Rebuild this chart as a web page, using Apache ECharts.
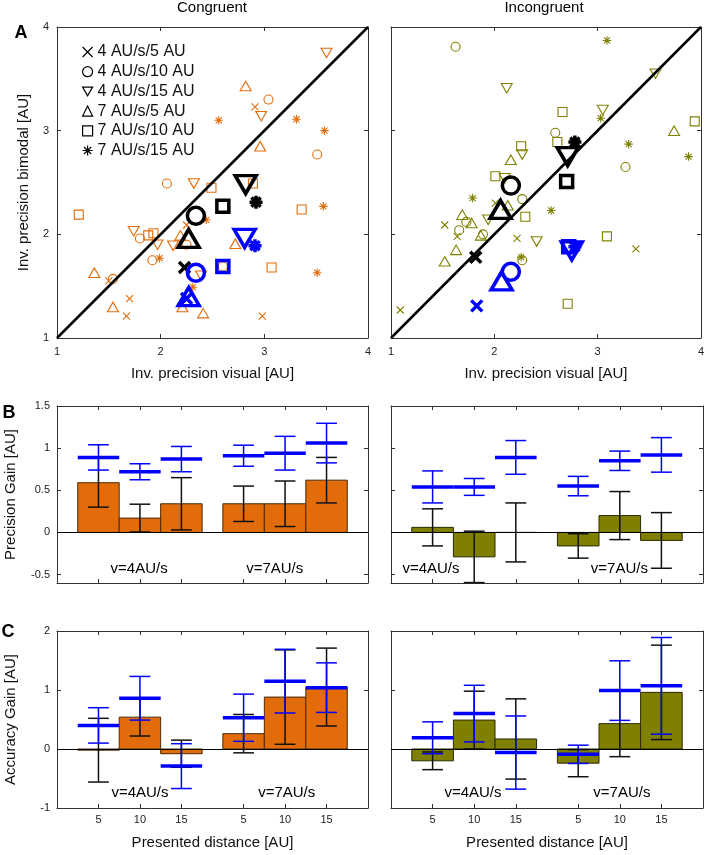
<!DOCTYPE html>
<html><head><meta charset="utf-8">
<script src="https://cdn.jsdelivr.net/npm/echarts@6/dist/echarts.min.js"></script>
<style>html,body{margin:0;padding:0;background:#fff}#c{width:707px;height:855px}</style>
</head><body><div id="c"></div>
<script>
// ================= DATA =================
const legendNames = ['4 AU/s/5 AU','4 AU/s/10 AU','4 AU/s/15 AU','7 AU/s/5 AU','7 AU/s/10 AU','7 AU/s/15 AU'];
const scatterTicks = [1, 2, 3, 4];
const precTicks = [-0.5, 0, 0.5, 1, 1.5];
const accTicks = [-1, 0, 1, 2];
const distLabels = ['5', '10', '15', '5', '10', '15'];
const noteText = ['v=4AU/s', 'v=7AU/s'];

// Panel A, congruent: individual subjects [visual, bimodal]
const cong_4_5  = [[2.91,3.23],[2.25,2.09],[1.50,1.55],[1.70,1.38],[1.67,1.21],[2.98,1.21]];
const cong_4_10 = [[3.04,3.30],[3.51,2.77],[2.06,2.49],[1.80,1.96],[2.25,1.90],[1.92,1.75],[1.54,1.57],[2.60,1.69]];
const cong_4_15 = [[3.60,3.75],[2.97,3.14],[2.32,2.49],[1.74,2.03],[1.97,1.90],[2.12,1.89],[2.39,1.60]];
const cong_7_5  = [[2.82,3.43],[2.96,2.85],[2.19,1.99],[2.72,1.91],[1.36,1.63],[1.54,1.30],[2.21,1.30],[2.41,1.24]];
const cong_7_10 = [[2.49,2.45],[2.89,2.49],[1.21,2.19],[3.36,2.24],[1.88,1.99],[1.93,2.01],[3.07,1.68]];
const cong_7_15 = [[2.56,3.10],[3.31,3.11],[3.58,3.00],[3.57,2.27],[2.44,2.14],[1.99,1.77],[2.31,1.49],[3.51,1.63]];
// Panel A, incongruent
const inc_4_5  = [[2.01,2.30],[1.52,2.09],[1.64,1.98],[2.22,1.96],[3.37,1.86],[1.09,1.27]];
const inc_4_10 = [[1.625,3.81],[2.59,2.98],[3.27,2.65],[2.27,2.34],[1.73,2.12],[1.66,2.04],[1.89,2.00],[2.27,1.75]];
const inc_4_15 = [[2.12,3.41],[3.56,3.55],[3.05,3.20],[2.27,2.77],[2.10,2.54],[1.94,2.14],[2.41,1.93]];
const inc_7_5  = [[3.74,3.00],[2.16,2.72],[2.13,2.28],[1.69,2.19],[1.78,2.11],[1.87,1.99],[1.63,1.85],[1.52,1.74]];
const inc_7_10 = [[2.66,3.18],[3.94,3.09],[2.61,2.89],[2.26,2.85],[2.01,2.56],[2.30,2.17],[3.09,1.98],[2.71,1.33]];
const inc_7_15 = [[3.09,3.87],[3.03,3.12],[3.30,2.87],[3.88,2.75],[1.79,2.35],[2.55,2.23],[2.26,1.78]];
// Group means (black = observed, blue = model), order as legendNames
const congMeanObs   = [[2.23,1.68],[2.34,2.18],[2.82,2.48],[2.27,1.96],[2.60,2.27],[2.92,2.31]];
const congMeanModel = [[2.25,1.38],[2.34,1.63],[2.81,1.96],[2.27,1.40],[2.60,1.69],[2.91,1.89]];
const incMeanObs    = [[1.82,1.78],[2.16,2.47],[2.71,2.75],[2.06,2.24],[2.70,2.51],[2.78,2.89]];
const incMeanModel  = [[1.83,1.31],[2.16,1.64],[2.75,1.84],[2.07,1.55],[2.72,1.88],[2.78,1.88]];

// Panel B: precision gain
const precCongBar      = [0.59, 0.17, 0.34, 0.34, 0.34, 0.62];
const precCongBarErr   = [0.29, 0.165, 0.31, 0.21, 0.27, 0.27];
const precCongModel    = [0.89, 0.72, 0.87, 0.91, 0.94, 1.06];
const precCongModelErr = [0.15, 0.095, 0.15, 0.125, 0.20, 0.235];
const precIncBar       = [0.06, -0.29, 0.0, -0.16, 0.20, -0.095];
const precIncBarErr    = [0.22, 0.305, 0.35, 0.145, 0.285, 0.33];
const precIncModel     = [0.54, 0.54, 0.89, 0.55, 0.85, 0.92];
const precIncModelErr  = [0.19, 0.10, 0.20, 0.115, 0.115, 0.205];
// Panel C: accuracy gain
const accCongBar       = [-0.02, 0.54, -0.08, 0.26, 0.88, 1.05];
const accCongBarErr    = [0.54, 0.32, 0.23, 0.325, 0.80, 0.66];
const accCongModel     = [0.40, 0.86, -0.29, 0.53, 1.15, 1.04];
const accCongModelErr  = [0.30, 0.37, 0.38, 0.40, 0.54, 0.42];
const accIncBar        = [-0.20, 0.49, 0.17, -0.24, 0.43, 0.96];
const accIncBarErr     = [0.15, 0.49, 0.68, 0.23, 0.56, 0.80];
const accIncModel      = [0.19, 0.60, -0.06, -0.09, 0.99, 1.07];
const accIncModelErr   = [0.27, 0.48, 0.62, 0.155, 0.505, 0.82];
// speed-group annotation anchors [x, y]
const precCongNotes = [[1.98,-0.43],[5.25,-0.43]];
const precIncNotes  = [[0.96,-0.43],[5.49,-0.43]];
const accCongNotes  = [[2.00,-0.75],[5.54,-0.75]];
const accIncNotes   = [[1.97,-0.75],[5.55,-0.75]];

// ================= LAYOUT / STYLE =================
const FONT = '"Liberation Sans", Arial, Helvetica, sans-serif';
const AX = '#333333';
const ORANGE = '#E36C0A', OLIVE = '#808000', BLUE = '#0000FF';
const SYMS = ['path://M0,0L10,10M0,10L10,0', 'circle', 'path://M0,0L20,0L10,17.32Z', 'triangle', 'rect',
  'path://M5,0L5,10M0,5L10,5M1.46,1.46L8.54,8.54M1.46,8.54L8.54,1.46'];
const SMALL = [7, 9, [11, 9.5], [11, 9.5], 9, 8.5];
const BIG = [11, 17, [21, 18], [21, 18], 12, 13];
const barPos = [1, 2, 3, 4.5, 5.5, 6.5];
const barXMin = 0, barXMax = 7.5;
const scMin = 1, scMax = 4;

const grids = [
  {left: 57, top: 27, width: 311, height: 311},
  {left: 391, top: 27, width: 312, height: 311},
  {left: 57, top: 406, width: 311, height: 177},
  {left: 391, top: 406, width: 312, height: 177},
  {left: 57, top: 631, width: 311, height: 177},
  {left: 391, top: 631, width: 312, height: 177}
];

function mkAxis(pos, gi, min, max, ticks, showLabel, margin, fmt, name, nameGap) {
  const a = {
    type: 'value', gridIndex: gi, min: min, max: max, position: pos,
    axisLine: {show: true, onZero: false, lineStyle: {color: AX, width: 1}},
    axisTick: {show: true, inside: true, length: 4, customValues: ticks, lineStyle: {color: AX, width: 1}},
    axisLabel: {show: showLabel, customValues: ticks, margin: margin, fontSize: 11, color: '#222', fontFamily: FONT},
    splitLine: {show: false}
  };
  if (fmt) a.axisLabel.formatter = fmt;
  if (name) {
    a.name = name; a.nameLocation = 'middle'; a.nameGap = nameGap;
    a.nameTextStyle = {fontSize: 15, color: '#111', fontFamily: FONT};
  }
  return a;
}
const distFmt = v => { const i = barPos.findIndex(p => Math.abs(p - v) < 1e-6); return i >= 0 ? distLabels[i] : ''; };

const xAxes = [], yAxes = [];
// scatter panels
xAxes.push(mkAxis('bottom', 0, scMin, scMax, scatterTicks, true, 8, null, 'Inv. precision visual [AU]', 28));
xAxes.push(mkAxis('top', 0, scMin, scMax, scatterTicks, false, 8));
yAxes.push(mkAxis('left', 0, scMin, scMax, scatterTicks, true, 8, null, 'Inv. precision bimodal [AU]', 26));
yAxes.push(mkAxis('right', 0, scMin, scMax, scatterTicks, false, 8));
xAxes.push(mkAxis('bottom', 1, scMin, scMax, scatterTicks, true, 8, null, 'Inv. precision visual [AU]', 28));
xAxes.push(mkAxis('top', 1, scMin, scMax, scatterTicks, false, 8));
yAxes.push(mkAxis('left', 1, scMin, scMax, scatterTicks, false, 8));
yAxes.push(mkAxis('right', 1, scMin, scMax, scatterTicks, false, 8));
// precision panels
[2, 3].forEach(gi => {
  xAxes.push(mkAxis('bottom', gi, barXMin, barXMax, barPos, false, 6));
  xAxes.push(mkAxis('top', gi, barXMin, barXMax, barPos, false, 6));
  yAxes.push(mkAxis('left', gi, -0.6, 1.5, precTicks, gi === 2, 7, null, gi === 2 ? 'Precision Gain [AU]' : null, 39));
  yAxes.push(mkAxis('right', gi, -0.6, 1.5, precTicks, false, 7));
});
// accuracy panels
[4, 5].forEach(gi => {
  xAxes.push(mkAxis('bottom', gi, barXMin, barXMax, barPos, true, 6, distFmt, 'Presented distance [AU]', 27));
  xAxes.push(mkAxis('top', gi, barXMin, barXMax, barPos, false, 6));
  yAxes.push(mkAxis('left', gi, -1, 2, accTicks, gi === 4, 7, null, gi === 4 ? 'Accuracy Gain [AU]' : null, 39));
  yAxes.push(mkAxis('right', gi, -1, 2, accTicks, false, 7));
});

// ================= SERIES =================
const series = [];
function scatterPanel(gi, pts, color, obs, model) {
  const ax = {xAxisIndex: 2 * gi, yAxisIndex: 2 * gi, silent: true, animation: false};
  pts.forEach((d, k) => series.push(Object.assign({type: 'scatter', data: d, symbol: SYMS[k], symbolSize: SMALL[k],
    itemStyle: {color: 'transparent', borderColor: color, borderWidth: 1.1, opacity: 1}, z: 2}, ax)));
  series.push(Object.assign({type: 'line', data: [[scMin, scMin], [scMax, scMax]], symbol: 'none',
    lineStyle: {color: '#000', width: 2.5}, z: 3}, ax));
  obs.forEach((p, k) => series.push(Object.assign({type: 'scatter', data: [p], symbol: SYMS[k], symbolSize: BIG[k],
    itemStyle: {color: 'transparent', borderColor: '#000', borderWidth: 3.5, opacity: 1}, z: 4}, ax)));
  model.forEach((p, k) => series.push(Object.assign({type: 'scatter', data: [p], symbol: SYMS[k], symbolSize: BIG[k],
    itemStyle: {color: 'transparent', borderColor: BLUE, borderWidth: 3.5, opacity: 1}, z: 5}, ax)));
}
scatterPanel(0, [cong_4_5, cong_4_10, cong_4_15, cong_7_5, cong_7_10, cong_7_15], ORANGE, congMeanObs, congMeanModel);
scatterPanel(1, [inc_4_5, inc_4_10, inc_4_15, inc_7_5, inc_7_10, inc_7_15], OLIVE, incMeanObs, incMeanModel);
// legend-only series
legendNames.forEach((n, k) => series.push({type: 'scatter', name: n, xAxisIndex: 0, yAxisIndex: 0, data: [],
  symbol: SYMS[k], itemStyle: {color: 'transparent', borderColor: '#000', borderWidth: 1.2, opacity: 1}}));

function errRender(color, lw, capHalf, meanLine) {
  return function (params, api) {
    const x = api.value(0), m = api.value(1), e = api.value(2);
    const top = api.coord([x, m + e]), bot = api.coord([x, m - e]);
    const c0 = api.coord([x - capHalf, m])[0], c1 = api.coord([x + capHalf, m])[0];
    const st = {stroke: color, lineWidth: lw};
    const ch = [
      {type: 'line', shape: {x1: top[0], y1: top[1], x2: bot[0], y2: bot[1]}, style: st},
      {type: 'line', shape: {x1: c0, y1: top[1], x2: c1, y2: top[1]}, style: st},
      {type: 'line', shape: {x1: c0, y1: bot[1], x2: c1, y2: bot[1]}, style: st}
    ];
    if (meanLine) {
      const a = api.coord([x - 0.5, m]), b = api.coord([x + 0.5, m]);
      ch.push({type: 'line', shape: {x1: a[0], y1: a[1], x2: b[0], y2: b[1]}, style: {stroke: color, lineWidth: 3.5}});
    }
    return {type: 'group', children: ch};
  };
}
function barPanel(gi, bar, barErr, model, modelErr, color, edge, notes) {
  const ax = {xAxisIndex: 2 * gi, yAxisIndex: 2 * gi, silent: true, animation: false};
  series.push(Object.assign({type: 'custom', z: 2,
    data: barPos.map((p, i) => [p, bar[i]]),
    renderItem: function (params, api) {
      const x = api.value(0), y = api.value(1);
      const a = api.coord([x - 0.5, 0]), b = api.coord([x + 0.5, y]);
      return {type: 'rect', shape: {x: a[0], y: Math.min(a[1], b[1]), width: b[0] - a[0], height: Math.abs(b[1] - a[1])},
        style: {fill: color, stroke: edge, lineWidth: 1}};
    },
    markLine: {silent: true, symbol: 'none', animation: false, label: {show: false},
      lineStyle: {color: '#000', width: 1, type: 'solid'}, data: [{yAxis: 0}]}
  }, ax));
  series.push(Object.assign({type: 'custom', z: 3, data: barPos.map((p, i) => [p, bar[i], barErr[i]]),
    renderItem: errRender('#111', 1.5, 0.25, false)}, ax));
  series.push(Object.assign({type: 'custom', z: 4, data: barPos.map((p, i) => [p, model[i], modelErr[i]]),
    renderItem: errRender(BLUE, 1.5, 0.25, true)}, ax));
  series.push(Object.assign({type: 'custom', z: 5, data: notes,
    renderItem: function (params, api) {
      const c = api.coord([api.value(0), api.value(1)]);
      return {type: 'text', x: c[0], y: c[1], style: {text: noteText[params.dataIndex], fill: '#000',
        font: '15px ' + FONT, textAlign: 'center', textVerticalAlign: 'middle'}};
    }}, ax));
}
barPanel(2, precCongBar, precCongBarErr, precCongModel, precCongModelErr, ORANGE, '#4a2a08', precCongNotes);
barPanel(3, precIncBar, precIncBarErr, precIncModel, precIncModelErr, OLIVE, '#2a2a00', precIncNotes);
barPanel(4, accCongBar, accCongBarErr, accCongModel, accCongModelErr, ORANGE, '#4a2a08', accCongNotes);
barPanel(5, accIncBar, accIncBarErr, accIncModel, accIncModelErr, OLIVE, '#2a2a00', accIncNotes);

const txt = (t, x, y, size, bold) => ({type: 'text', x: x, y: y, silent: true,
  style: {text: t, fill: '#000', font: (bold ? 'bold ' : '') + size + 'px ' + FONT, textAlign: 'center', textVerticalAlign: 'middle'}});

const option = {
  animation: false,
  backgroundColor: '#fff',
  grid: grids,
  xAxis: xAxes,
  yAxis: yAxes,
  legend: {orient: 'vertical', left: 77, top: 38, itemWidth: 10, itemHeight: 10, itemGap: 1.7, selectedMode: false,
    data: legendNames, textStyle: {fontSize: 16, lineHeight: 18, color: '#111', fontFamily: FONT},
    itemStyle: {color: 'transparent', borderColor: '#000', borderWidth: 1.2, opacity: 1}},
  graphic: [
    txt('Congruent', 212, 8, 15, false),
    txt('Incongruent', 544, 8, 15, false),
    txt('A', 21, 33, 18, true),
    txt('B', 9, 413, 18, true),
    txt('C', 8, 632, 18, true)
  ],
  series: series
};
const chart = echarts.init(document.getElementById('c'));
chart.setOption(option);
</script></body></html>
